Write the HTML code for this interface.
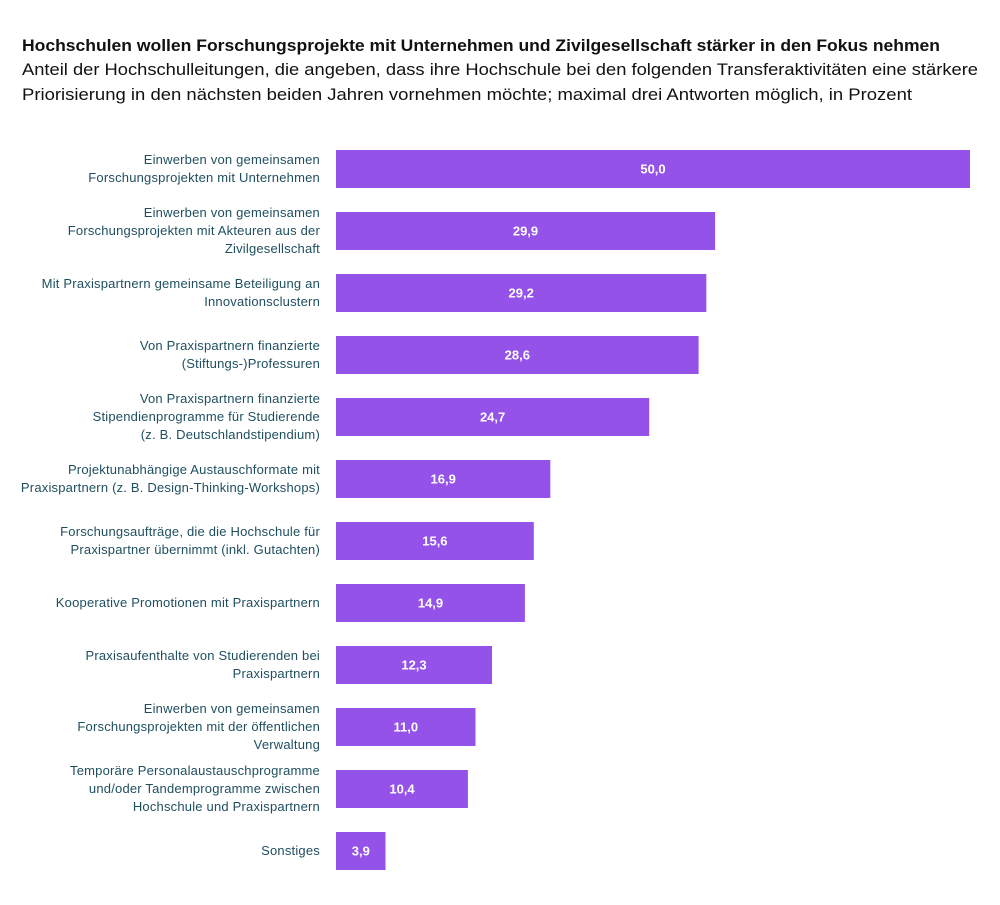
<!DOCTYPE html>
<html><head><meta charset="utf-8"><style>body{margin:0;background:#fff}</style></head><body>
<svg width="1000" height="900" xmlns="http://www.w3.org/2000/svg" font-family="Liberation Sans, sans-serif">
<text x="22" y="51" font-size="17" font-weight="bold" fill="#111" textLength="918" lengthAdjust="spacingAndGlyphs">Hochschulen wollen Forschungsprojekte mit Unternehmen und Zivilgesellschaft stärker in den Fokus nehmen</text>
<text x="22" y="75" font-size="17" fill="#111" textLength="956" lengthAdjust="spacingAndGlyphs">Anteil der Hochschulleitungen, die angeben, dass ihre Hochschule bei den folgenden Transferaktivitäten eine stärkere</text>
<text x="22" y="100" font-size="17" fill="#111" textLength="890" lengthAdjust="spacingAndGlyphs">Priorisierung in den nächsten beiden Jahren vornehmen möchte; maximal drei Antworten möglich, in Prozent</text>
<g fill="#9452E8">
<rect x="336" y="150" width="634" height="38"/>
<rect x="336" y="212" width="379.1" height="38"/>
<rect x="336" y="274" width="370.3" height="38"/>
<rect x="336" y="336" width="362.6" height="38"/>
<rect x="336" y="398" width="313.2" height="38"/>
<rect x="336" y="460" width="214.3" height="38"/>
<rect x="336" y="522" width="197.8" height="38"/>
<rect x="336" y="584" width="188.9" height="38"/>
<rect x="336" y="646" width="156" height="38"/>
<rect x="336" y="708" width="139.5" height="38"/>
<rect x="336" y="770" width="131.9" height="38"/>
<rect x="336" y="832" width="49.5" height="38"/>
</g>
<g font-size="13" font-weight="bold" fill="#fff" text-anchor="middle">
<text x="653" y="173.5">50,0</text>
<text x="525.5" y="235.5">29,9</text>
<text x="521.2" y="297.5">29,2</text>
<text x="517.3" y="359.5">28,6</text>
<text x="492.6" y="421.5">24,7</text>
<text x="443.2" y="483.5">16,9</text>
<text x="434.9" y="545.5">15,6</text>
<text x="430.5" y="607.5">14,9</text>
<text x="414" y="669.5">12,3</text>
<text x="405.8" y="731.5">11,0</text>
<text x="402" y="793.5">10,4</text>
<text x="360.8" y="855.5">3,9</text>
</g>
<g font-size="13" letter-spacing="0.2" fill="#1f4f5f" text-anchor="end">
<text x="320" y="164">Einwerben von gemeinsamen</text>
<text x="320" y="182">Forschungsprojekten mit Unternehmen</text>
<text x="320" y="217">Einwerben von gemeinsamen</text>
<text x="320" y="235">Forschungsprojekten mit Akteuren aus der</text>
<text x="320" y="253">Zivilgesellschaft</text>
<text x="320" y="288">Mit Praxispartnern gemeinsame Beteiligung an</text>
<text x="320" y="306">Innovationsclustern</text>
<text x="320" y="350">Von Praxispartnern finanzierte</text>
<text x="320" y="368">(Stiftungs-)Professuren</text>
<text x="320" y="403">Von Praxispartnern finanzierte</text>
<text x="320" y="421">Stipendienprogramme für Studierende</text>
<text x="320" y="439">(z. B. Deutschlandstipendium)</text>
<text x="320" y="474">Projektunabhängige Austauschformate mit</text>
<text x="320" y="492">Praxispartnern (z. B. Design-Thinking-Workshops)</text>
<text x="320" y="536">Forschungsaufträge, die die Hochschule für</text>
<text x="320" y="554">Praxispartner übernimmt (inkl. Gutachten)</text>
<text x="320" y="607">Kooperative Promotionen mit Praxispartnern</text>
<text x="320" y="660">Praxisaufenthalte von Studierenden bei</text>
<text x="320" y="678">Praxispartnern</text>
<text x="320" y="713">Einwerben von gemeinsamen</text>
<text x="320" y="731">Forschungsprojekten mit der öffentlichen</text>
<text x="320" y="749">Verwaltung</text>
<text x="320" y="775">Temporäre Personalaustauschprogramme</text>
<text x="320" y="793">und/oder Tandemprogramme zwischen</text>
<text x="320" y="811">Hochschule und Praxispartnern</text>
<text x="320" y="855">Sonstiges</text>
</g>
</svg>
</body></html>
